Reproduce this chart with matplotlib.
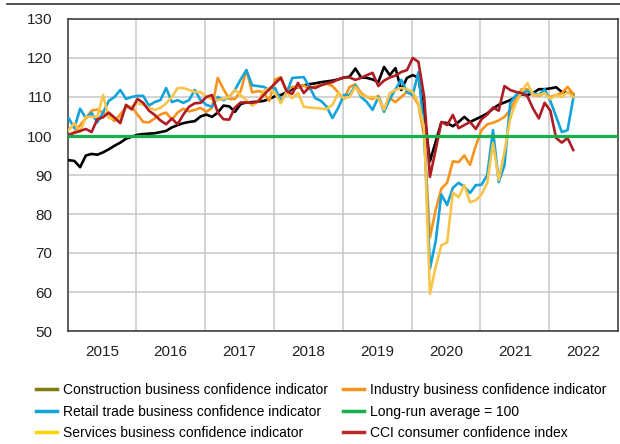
import matplotlib
matplotlib.use("Agg")
import matplotlib.pyplot as plt
from matplotlib.lines import Line2D
import numpy as np

plt.rcParams['font.family'] = ['Liberation Sans', 'DejaVu Sans']

# monthly values, Jan 2015 - May 2022
construction = [93.8, 93.6, 92.0, 95.0, 95.4, 95.2, 95.8, 96.6, 97.5, 98.3, 99.3, 99.8,
                100.3, 100.5, 100.6, 100.7, 101.0, 101.3, 102.2, 102.8, 103.3, 103.6, 103.8, 105.0,
                105.5, 104.9, 106.0, 107.8, 107.6, 106.2, 108.2, 108.6, 108.7, 108.8, 109.0, 109.5,
                110.2, 110.5, 111.2, 112.0, 112.5, 113.0, 113.3, 113.5, 113.8, 114.0, 114.2, 114.5,
                115.0, 115.2, 117.3, 115.0, 114.9, 114.5, 113.8, 117.7, 115.6, 117.4, 111.8, 114.9,
                115.6, 115.0, 106.0, 93.5, 98.5, 103.5, 103.3, 102.5, 103.6, 104.9, 103.6, 104.3,
                105.0, 105.8, 107.0, 108.0, 108.6, 109.2, 110.0, 110.7, 110.5, 111.0, 112.0, 112.0,
                112.2, 112.5, 111.3, 111.2, 110.6]
retail = [104.6, 102.0, 107.0, 104.6, 105.9, 103.5, 106.0, 109.0, 110.0, 111.8, 109.5, 110.0,
          110.3, 110.3, 107.8, 108.7, 109.2, 112.3, 108.7, 109.2, 108.5, 109.2, 111.8, 109.2,
          108.0, 107.5, 110.0, 109.2, 110.0, 111.8, 114.5, 116.9, 113.0, 112.8, 112.6, 111.8,
          112.3, 109.0, 111.0, 114.9, 115.0, 115.1, 112.6, 109.7, 109.0, 107.5, 104.6, 107.2,
          110.5, 110.5, 113.0, 110.0, 108.7, 106.7, 110.0, 106.2, 109.5, 112.0, 114.4, 111.3,
          110.5, 116.4, 101.0, 66.0, 73.0, 85.0, 82.3, 86.7, 88.0, 87.0, 85.4, 87.4,
          87.5, 90.0, 101.5, 88.2, 92.5, 108.4, 110.5, 111.0, 111.5, 111.0, 110.5, 112.0,
          109.0, 105.0, 101.0, 101.5, 109.7]
services = [101.5, 103.3, 101.0, 104.9, 104.9, 105.0, 110.5, 104.6, 104.5, 104.0, 107.5, 107.5,
            108.4, 108.0, 107.2, 106.7, 107.2, 108.4, 110.0, 112.3, 112.3, 111.8, 111.3, 111.3,
            110.0, 109.5, 109.2, 109.5, 110.0, 111.8, 110.5, 109.2, 107.8, 108.7, 111.5, 112.3,
            111.0, 108.4, 111.3, 109.7, 111.0, 107.5, 107.3, 107.2, 107.0, 106.9, 108.0, 111.0,
            109.7, 110.0, 112.6, 110.5, 110.0, 110.0, 109.7, 106.7, 111.0, 111.8, 112.3, 112.0,
            111.3, 108.4, 102.0, 59.5, 66.4, 72.0, 72.7, 85.5, 84.3, 87.4, 83.0, 83.5,
            85.0, 88.0, 98.2, 88.7, 96.0, 104.5, 108.5, 111.3, 113.6, 110.5, 110.5, 111.0,
            109.5, 110.5, 110.0, 111.3, 110.0]
industry = [100.3, 101.0, 102.8, 104.5, 106.5, 106.8, 105.9, 105.3, 103.8, 105.5, 107.3, 107.5,
            105.5, 103.6, 103.5, 104.5, 105.5, 106.0, 104.2, 106.0, 107.0, 106.3, 106.7, 107.2,
            106.2, 107.2, 114.9, 112.0, 109.5, 109.5, 111.5, 116.9, 111.2, 111.5, 111.2, 109.0,
            114.5, 115.1, 111.5, 112.6, 112.5, 113.0, 112.0, 112.8, 113.0, 113.4, 112.8, 111.2,
            109.5, 112.6, 113.2, 111.0, 110.0, 109.5, 110.3, 106.7, 109.7, 108.7, 110.0, 111.3,
            110.5, 108.0, 100.0, 74.0, 81.0, 86.5, 88.0, 93.5, 93.3, 95.0, 92.6, 97.5,
            101.5, 103.0, 103.4, 104.0, 104.9, 106.7, 109.5, 112.0, 112.0, 110.5, 110.3, 111.0,
            110.0, 110.5, 111.0, 112.6, 110.8]
cci = [100.3, 100.8, 101.3, 101.8, 101.0, 104.3, 104.8, 106.0, 104.7, 103.3, 108.0, 106.8,
       109.5, 108.5, 106.5, 105.4, 104.0, 103.0, 104.5, 103.0, 105.5, 107.5, 108.4, 108.5,
       110.0, 110.5, 106.0, 104.3, 104.2, 107.3, 108.6, 108.6, 108.5, 108.8, 110.5, 112.0,
       113.5, 114.9, 111.5, 110.8, 113.6, 111.0, 112.6, 112.3, 113.0, 113.5, 113.8, 114.5,
       115.0, 115.0, 114.4, 114.9, 115.6, 116.2, 112.8, 114.2, 115.0, 115.5, 116.4, 116.9,
       120.0, 119.0, 110.0, 89.5, 96.4, 103.6, 102.8, 105.4, 102.0, 102.8, 103.6, 101.8,
       104.3, 105.5, 107.3, 106.5, 112.8, 111.8, 111.3, 111.0, 110.2, 107.0, 104.5, 108.5,
       106.5, 99.5, 98.3, 99.5, 96.4]
long_run = 100
years = list(range(2015, 2023))

t = 2015 + (np.arange(len(construction)) + 0.2) / 12

fig = plt.figure(figsize=(6.2, 4.44), dpi=100)
ax = fig.add_axes([67.5 / 620, 1 - 331 / 444, (618 - 67.5) / 620, (331 - 19) / 444])

fig.add_artist(Line2D([7 / 620, 1], [1 - 4.5 / 444] * 2, color='#333333', lw=1.2))

lw = 1.9
ax.plot(t, construction, color='black', lw=lw, zorder=3)
ax.plot(t, industry, color='#f7941d', lw=lw, zorder=3)
ax.plot(t, retail, color='#13a3dc', lw=lw, zorder=3)
ax.plot(t, services, color='#f8c54a', lw=lw, zorder=3)
ax.plot(t, cci, color='#b01c24', lw=lw, zorder=3)
ax.axhline(long_run, color='#14b04a', lw=2.3, zorder=4)

ax.set_xlim(2015, 2023)
ax.set_ylim(50, 130)
ax.set_yticks(range(50, 131, 10))
ax.set_xticks(years[1:])
ax.set_xticklabels([])
ax.set_xticks([y + 0.5 for y in years], minor=True)
ax.set_xticklabels([str(y) for y in years], minor=True)
ax.tick_params(axis='both', which='both', length=0, labelsize=11, colors='#222222')
ax.tick_params(axis='x', which='minor', pad=10)
ax.tick_params(axis='y', pad=11)
ax.grid(True, which='major', color='#c8c8c8', lw=1.1)
ax.set_axisbelow(True)
for s in ax.spines.values():
    s.set_color('#333333')
    s.set_linewidth(1.1)

handles = [
    Line2D([], [], color='#807b10', lw=2.5),
    Line2D([], [], color='#13a3dc', lw=2.5),
    Line2D([], [], color='#ffd200', lw=2.5),
    Line2D([], [], color='#f7941d', lw=2.5),
    Line2D([], [], color='#14b04a', lw=2.5),
    Line2D([], [], color='#c0272d', lw=2.5),
]
labels = ['Construction business confidence indicator',
          'Retail trade business confidence indicator',
          'Services business confidence indicator',
          'Industry business confidence indicator',
          'Long-run average = 100',
          'CCI consumer confidence index']
fig.legend(handles, labels, ncol=2, frameon=False, loc='upper left',
           bbox_to_anchor=(36 / 620, 1 - 383 / 444), fontsize=10,
           handlelength=1.5, handletextpad=0.42, columnspacing=1.1,
           labelspacing=0.55, borderpad=0, borderaxespad=0)

fig.savefig('out.png', dpi=100)
